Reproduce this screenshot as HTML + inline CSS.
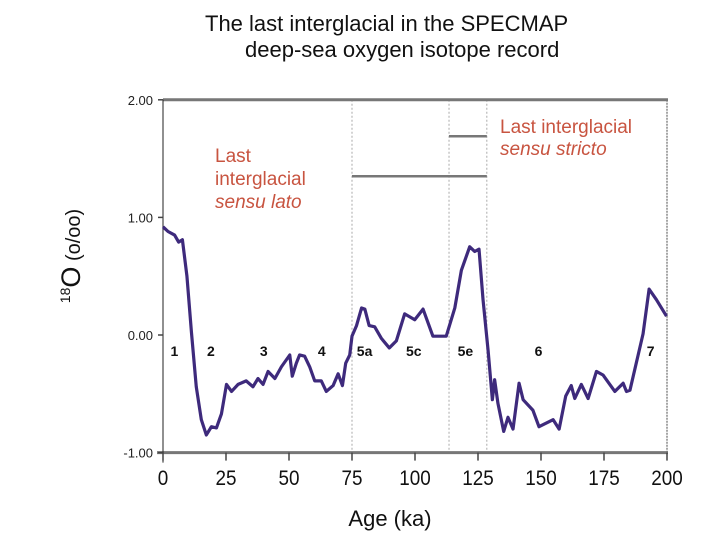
<!DOCTYPE html>
<html><head><meta charset="utf-8"><style>
body{margin:0;background:#fff;width:720px;height:540px;overflow:hidden;font-family:"Liberation Sans",sans-serif}
</style></head><body>
<svg width="720" height="540" xmlns="http://www.w3.org/2000/svg" font-family="Liberation Sans, sans-serif">
<text x="205" y="31" font-size="22" fill="#111">The last interglacial in the SPECMAP</text>
<text x="245" y="57" font-size="22" fill="#111">deep-sea oxygen isotope record</text>
<g id="axes"></g>
<g id="marks"></g>
<text transform="translate(80,256) rotate(-90)" text-anchor="middle" fill="#111"><tspan font-size="14" dy="-10">18</tspan><tspan font-size="27" dy="10">O</tspan><tspan font-size="20"> (o/oo)</tspan></text>
<text x="390" y="526" text-anchor="middle" font-size="22" fill="#111">Age (ka)</text>
<text font-size="19" fill="#c85440"><tspan x="215" y="162">Last</tspan><tspan x="215" y="185">interglacial</tspan><tspan x="215" y="208" font-style="italic">sensu lato</tspan></text>
<text font-size="19" fill="#c85440"><tspan x="500" y="133">Last interglacial</tspan><tspan x="500" y="155" font-style="italic">sensu stricto</tspan></text>
</svg>
<script>
const ages=[0,2,4.6,6.2,7.7,9.5,11.3,13.2,15.2,17.2,19.2,21.2,23.2,25.2,27.2,29.8,33,35.7,37.7,39.7,41.7,44.4,47,50.3,51.3,52.9,54.2,56.2,58.2,60.2,62.8,64.8,67.5,69.5,71.2,72.5,74.1,75,76.8,78.8,80.1,81.8,84,86.7,89.8,92.6,95.9,99.9,103.2,107.1,112.4,115.8,118.4,121.7,123.7,125.4,127,129,130.7,131.6,132.9,135.2,136.9,138.9,141.3,142.9,146.8,149.2,154.8,157.2,159.8,162,163.4,166,168.7,172,174.6,179.3,182.6,183.9,185.3,190.5,192.9,195.8,199.8];
const d18O=[0.92,0.88,0.85,0.79,0.81,0.5,0.02,-0.44,-0.72,-0.85,-0.78,-0.79,-0.67,-0.42,-0.48,-0.42,-0.39,-0.44,-0.37,-0.42,-0.31,-0.37,-0.27,-0.17,-0.35,-0.24,-0.17,-0.18,-0.27,-0.39,-0.39,-0.48,-0.43,-0.33,-0.43,-0.24,-0.17,-0.01,0.08,0.23,0.22,0.08,0.07,-0.03,-0.11,-0.05,0.18,0.13,0.22,-0.01,-0.01,0.23,0.55,0.75,0.71,0.73,0.3,-0.13,-0.55,-0.38,-0.58,-0.82,-0.7,-0.8,-0.41,-0.55,-0.64,-0.78,-0.72,-0.8,-0.52,-0.43,-0.54,-0.42,-0.54,-0.31,-0.34,-0.48,-0.41,-0.48,-0.47,0.01,0.39,0.3,0.16];
const xTicks=[0,25,50,75,100,125,150,175,200];
const yTicks=[2,1,0,-1];
const yTickLabels=["2.00","1.00","0.00","-1.00"];
const stageNames=["1","2","3","4","5a","5c","5e","6","7"];
const stageAges=[4.5,19,40,63,80,99.5,120,149,193.5];
const boundaries=[75,113.5,128.5];
const latoRange=[75,128.5], latoY=1.35;
const strictoRange=[113.5,128.5], strictoY=1.69;
const NS="http://www.w3.org/2000/svg";
const X=a=>163+a*(667-163)/200;
const Y=v=>335-v*117.6;
function mk(p,t,at){const e=document.createElementNS(NS,t);for(const k in at)e.setAttribute(k,at[k]);p.appendChild(e);return e;}
const ax=document.getElementById('axes'),mg=document.getElementById('marks');
boundaries.forEach(b=>{const l=mk(ax,'line',{x1:X(b),x2:X(b),y1:Y(2),y2:Y(-1),stroke:'#aaa','stroke-width':1,'stroke-dasharray':'2,2'});

});
let r=mk(ax,'line',{x1:X(200),x2:X(200),y1:Y(2),y2:Y(-1),stroke:'#888','stroke-width':1.5,'stroke-dasharray':'2,1'});


let t=mk(ax,'line',{x1:X(0),x2:X(200)+1,y1:Y(2),y2:Y(2),stroke:'#777','stroke-width':3});


let b=mk(ax,'line',{x1:X(0)-6,x2:X(200)+1,y1:Y(-1),y2:Y(-1),stroke:'#777','stroke-width':3});


let lft=mk(ax,'line',{x1:X(0),x2:X(0),y1:Y(2),y2:Y(-1)+10,stroke:'#222','stroke-width':1});


yTicks.forEach((v,i)=>{mk(ax,'line',{x1:X(0)-5,x2:X(0),y1:Y(v),y2:Y(v),stroke:'#444','stroke-width':1.5});
const tx=mk(ax,'text',{x:X(0)-10,y:Y(v)+5,'text-anchor':'end','font-size':13,fill:'#222'});tx.textContent=yTickLabels[i];

});
xTicks.forEach(v=>{mk(ax,'line',{x1:X(v),x2:X(v),y1:Y(-1),y2:Y(-1)+8,stroke:'#444','stroke-width':1.5});
const tx=mk(ax,'text',{x:X(v),y:485,'text-anchor':'middle','font-size':21,fill:'#111',transform:`translate(${X(v)},0) scale(0.9,1) translate(${-X(v)},0)`});tx.textContent=v;

});
let ll=mk(mg,'line',{x1:X(latoRange[0]),x2:X(latoRange[1]),y1:Y(latoY),y2:Y(latoY),stroke:'#777','stroke-width':2.5});


let sl=mk(mg,'line',{x1:X(strictoRange[0]),x2:X(strictoRange[1]),y1:Y(strictoY),y2:Y(strictoY),stroke:'#777','stroke-width':2.5});


const p=mk(mg,'polyline',{points:ages.map((a,i)=>X(a)+','+Y(d18O[i])).join(' '),fill:'none',stroke:'#3e2a7c','stroke-width':3.2,'stroke-linejoin':'round'});


stageNames.forEach((s,i)=>{const tx=mk(mg,'text',{x:X(stageAges[i]),y:356,'text-anchor':'middle','font-size':14,'font-weight':'bold',fill:'#111'});tx.textContent=s;

});
</script>
</body></html>
